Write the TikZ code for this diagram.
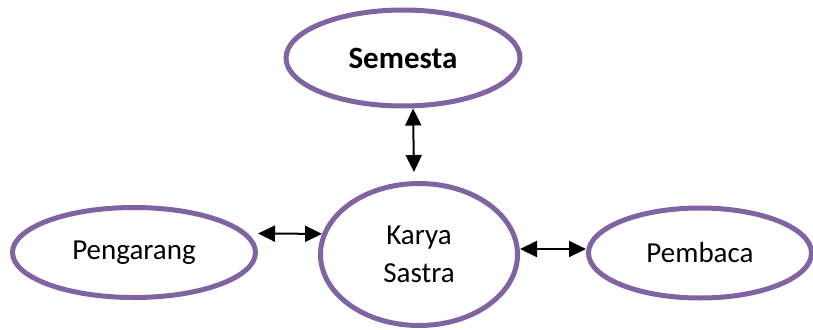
\documentclass[tikz,border=0pt]{standalone}
\usepackage{fontspec}
\setmainfont{Carlito}
\usetikzlibrary{arrows.meta,shapes.geometric}

\definecolor{accentpurple}{HTML}{8064A2}
\tikzset{
  bubble/.style={ellipse, draw=accentpurple, line width=5pt, inner sep=0pt,
    align=center, font=\fontsize{29}{38}\selectfont},
  link/.style={line width=2pt, {Triangle[length=17pt,width=16pt]}-{Triangle[length=17pt,width=16pt]}}
}

\begin{document}
\begin{tikzpicture}[x=1pt,y=-1pt]
  \useasboundingbox (0,0) rectangle (813,329);

  \node [bubble, minimum width=234pt, minimum height=96pt] at (403,58) (semesta) {\fontsize{31}{38}\selectfont\textbf{Semesta}};
  \node [bubble, minimum width=197pt, minimum height=142pt] at (419,254.5) (karya) {Karya\\Sastra};
  \node [bubble, minimum width=243pt, minimum height=90pt] at (134,252.5) (pengarang) {Pengarang};
  \node [bubble, minimum width=223pt, minimum height=90pt] at (700,253) (pembaca) {Pembaca};

  \draw [link] ([xshift=10pt]semesta.south) -- ([xshift=-5pt,yshift=9pt]karya.north);
  \draw [link] ([yshift=19pt]pengarang.east) -- (karya.168);
  \draw [link] ([yshift=5.5pt]karya.east) -- ([yshift=4pt]pembaca.west);
\end{tikzpicture}
\end{document}
